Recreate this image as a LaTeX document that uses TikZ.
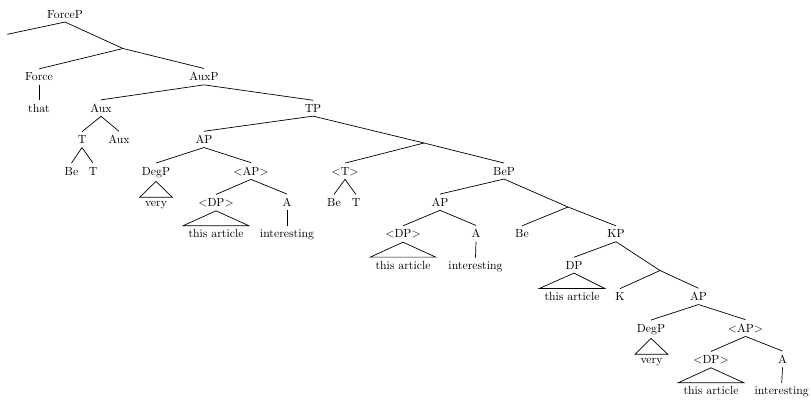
\documentclass[tikz,border=0pt]{standalone}
\begin{document}
\begin{tikzpicture}[x=0.85pt,y=-0.85pt,
  lbl/.style={anchor=base, inner xsep=4.5pt, inner ysep=3.33pt, outer sep=0pt},
  br/.style={line width=0.6pt},
  roof/.style={line width=0.6pt, line join=miter}]
\useasboundingbox (0,0) rectangle (811,405);
% level 0
\node[lbl] (forceP) at (65,18) {ForceP};
% level 1
\coordinate (e0) at (7.3,34.3);
\coordinate (e1) at (123,48.5);
% level 2
\node[lbl] (force) at (39,80.8) {Force};
\node[lbl] (auxP) at (204,80.8) {AuxP};
% level 3
\node[lbl] (that) at (39,112.2) {that};
\node[lbl] (aux) at (101,112.2) {Aux};
\node[lbl] (tp) at (313,112.2) {TP};
% level 4
\node[lbl] (t1) at (82,143.6) {T};
\node[lbl] (aux2) at (119,143.6) {Aux};
\node[lbl] (ap1) at (204,143.6) {AP};
\coordinate (e2) at (424,143);
% level 5
\node[lbl] (be1) at (71.5,175) {Be};
\node[lbl] (t2) at (93,175) {T};
\node[lbl] (degp1) at (156,175) {DegP};
\node[lbl] (apt1) at (251,175) {$<$AP$>$};
\node[lbl] (tt) at (345,175) {$<$T$>$};
\node[lbl] (bep) at (504,175) {BeP};
% level 6
\node[lbl] (very1) at (156,206.4) {very};
\node[lbl] (dp1) at (216,206.4) {$<$DP$>$};
\node[lbl] (a1) at (287,206.4) {A};
\node[lbl] (be2) at (334,206.4) {Be};
\node[lbl] (t3) at (356,206.4) {T};
\node[lbl] (ap2) at (440,206.4) {AP};
\coordinate (e3) at (568,207);
% level 7
\node[lbl] (art1) at (216,237.8) {this article};
\node[lbl] (int1) at (287,237.8) {interesting};
\node[lbl] (dp2) at (403,237.8) {$<$DP$>$};
\node[lbl] (a2) at (476,237.8) {A};
\node[lbl] (be3) at (522,237.8) {Be};
\node[lbl] (kp) at (616,237.8) {KP};
% level 8
\node[lbl] (art2) at (403,269.2) {this article};
\node[lbl] (int2) at (475.5,269.2) {interesting};
\node[lbl] (dp3) at (574,269.2) {DP};
\coordinate (e4) at (660,270.5);
% level 9
\node[lbl] (art3) at (572,300.6) {this article};
\node[lbl] (k) at (620,300.6) {K};
\node[lbl] (ap3) at (698.5,300.6) {AP};
% level 10
\node[lbl] (degp2) at (651,332) {DegP};
\node[lbl] (apt2) at (745.5,332) {$<$AP$>$};
% level 11
\node[lbl] (very2) at (651.5,363.4) {very};
\node[lbl] (dp4) at (711,363.4) {$<$DP$>$};
\node[lbl] (a3) at (782.5,363.4) {A};
% level 12
\node[lbl] (art4) at (711,394.8) {this article};
\node[lbl] (int3) at (781.7,394.8) {interesting};

% branches
\draw[br] (forceP.south) -- (e0);
\draw[br] (forceP.south) -- (e1);
\draw[br] (e1) -- (force.north);
\draw[br] (e1) -- (auxP.north);
\draw[br] (force.south) -- (that.north);
\draw[br] (auxP.south) -- (aux.north);
\draw[br] (auxP.south) -- (tp.north);
\draw[br] (aux.south) -- (t1.north);
\draw[br] (aux.south) -- (aux2.north);
\draw[br] (t1.south) -- (be1.north);
\draw[br] (t1.south) -- (t2.north);
\draw[br] (tp.south) -- (ap1.north);
\draw[br] (tp.south) -- (e2);
\draw[br] (ap1.south) -- (degp1.north);
\draw[br] (ap1.south) -- (apt1.north);
\draw[roof] (degp1.south) -- (very1.north west) -- (very1.north east) -- cycle;
\draw[br] (apt1.south) -- (dp1.north);
\draw[br] (apt1.south) -- (a1.north);
\draw[roof] (dp1.south) -- (art1.north west) -- (art1.north east) -- cycle;
\draw[br] (a1.south) -- (int1.north);
\draw[br] (e2) -- (tt.north);
\draw[br] (e2) -- (bep.north);
\draw[br] (tt.south) -- (be2.north);
\draw[br] (tt.south) -- (t3.north);
\draw[br] (bep.south) -- (ap2.north);
\draw[br] (bep.south) -- (e3);
\draw[br] (ap2.south) -- (dp2.north);
\draw[br] (ap2.south) -- (a2.north);
\draw[roof] (dp2.south) -- (art2.north west) -- (art2.north east) -- cycle;
\draw[br] (a2.south) -- (int2.north);
\draw[br] (e3) -- (be3.north);
\draw[br] (e3) -- (kp.north);
\draw[br] (kp.south) -- (dp3.north);
\draw[br] (kp.south) -- (e4);
\draw[roof] (dp3.south) -- (art3.north west) -- (art3.north east) -- cycle;
\draw[br] (e4) -- (k.north);
\draw[br] (e4) -- (ap3.north);
\draw[br] (ap3.south) -- (degp2.north);
\draw[br] (ap3.south) -- (apt2.north);
\draw[roof] (degp2.south) -- (very2.north west) -- (very2.north east) -- cycle;
\draw[br] (apt2.south) -- (dp4.north);
\draw[br] (apt2.south) -- (a3.north);
\draw[roof] (dp4.south) -- (art4.north west) -- (art4.north east) -- cycle;
\draw[br] (a3.south) -- (int3.north);
\end{tikzpicture}
\end{document}
